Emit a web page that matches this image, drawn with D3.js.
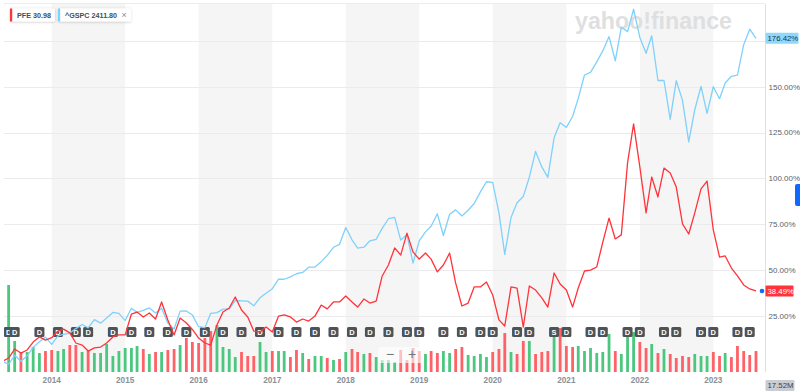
<!DOCTYPE html>
<html><head><meta charset="utf-8">
<script src="https://cdn.jsdelivr.net/npm/d3@7"></script>
<style>body{margin:0;background:#fff}svg{display:block;font-family:"Liberation Sans",Arial,sans-serif}</style>
</head><body><svg id="c" width="800" height="392"></svg>
<script>
// ---------- DATA ----------
const months = [
 "2013-05","2013-06","2013-07","2013-08","2013-09","2013-10","2013-11","2013-12",
 "2014-01","2014-02","2014-03","2014-04","2014-05","2014-06","2014-07","2014-08","2014-09","2014-10","2014-11","2014-12",
 "2015-01","2015-02","2015-03","2015-04","2015-05","2015-06","2015-07","2015-08","2015-09","2015-10","2015-11","2015-12",
 "2016-01","2016-02","2016-03","2016-04","2016-05","2016-06","2016-07","2016-08","2016-09","2016-10","2016-11","2016-12",
 "2017-01","2017-02","2017-03","2017-04","2017-05","2017-06","2017-07","2017-08","2017-09","2017-10","2017-11","2017-12",
 "2018-01","2018-02","2018-03","2018-04","2018-05","2018-06","2018-07","2018-08","2018-09","2018-10","2018-11","2018-12",
 "2019-01","2019-02","2019-03","2019-04","2019-05","2019-06","2019-07","2019-08","2019-09","2019-10","2019-11","2019-12",
 "2020-01","2020-02","2020-03","2020-04","2020-05","2020-06","2020-07","2020-08","2020-09","2020-10","2020-11","2020-12",
 "2021-01","2021-02","2021-03","2021-04","2021-05","2021-06","2021-07","2021-08","2021-09","2021-10","2021-11","2021-12",
 "2022-01","2022-02","2022-03","2022-04","2022-05","2022-06","2022-07","2022-08","2022-09","2022-10","2022-11","2022-12",
 "2023-01","2023-02","2023-03","2023-04","2023-05","2023-06","2023-07","2023-08"];

// % change since May 2013
const pfe = [
 0,1.9,6.8,4.6,6.3,10.6,13.4,11.7,
 13.0,16.6,17.7,15.6,10.1,9.0,5.7,7.4,7.9,10.1,13.4,14.5,
 14.5,25.9,27.0,24.3,26.5,23.2,32.5,22.7,14.5,23.7,21.0,17.5,
 12.8,10.1,9.0,19.9,27.0,29.2,35.2,28.1,24.3,16.6,16.1,18.8,
 16.1,24.8,25.4,24.3,21.5,23.2,22.1,24.8,30.8,28.7,32.5,32.5,
 35.8,32.5,29.7,34.1,31.9,33.0,46.7,52.7,62.0,58.1,70.1,59.8,
 55.9,59.2,55.9,48.9,52.7,59.2,42.8,30.3,31.9,40.7,40.7,43.4,
 36.3,22.7,19.4,40.7,40.1,18.8,41.2,39.0,34.7,29.7,48.3,42.3,
 39.0,29.7,40.1,49.4,49.9,51.6,65.2,78.3,66.9,69.1,108.4,129.7,
 106.2,81.1,100.7,89.8,105.6,102.9,95.2,75.1,69.6,81.1,94.2,98.5,
 71.8,57.0,57.6,51.0,46.7,41.8,39.6,38.49];

const gspc = [
 0,-1.5,3.37,0.14,3.12,7.71,10.74,13.34,
 9.31,14.02,14.82,15.53,17.96,20.2,18.39,22.85,20.94,23.75,26.79,26.26,
 22.34,29.05,26.81,27.89,29.23,26.51,29.01,20.94,17.74,27.51,27.57,25.34,
 18.98,18.49,26.31,26.65,28.59,28.71,33.29,33.13,32.96,30.38,34.83,37.29,
 39.74,44.94,44.89,46.2,47.9,48.61,51.48,51.57,54.49,57.92,62.35,63.95,
 73.16,66.42,61.94,62.38,65.89,66.7,72.7,77.93,78.69,66.29,69.26,53.72,
 65.82,70.75,73.81,80.64,68.76,80.39,82.76,79.46,82.54,86.27,92.61,98.12,
 97.79,81.16,58.49,78.6,86.68,90.11,100.59,114.65,106.23,100.52,122.08,130.33,
 127.77,133.71,143.63,156.4,157.81,163.53,169.53,177.34,164.15,182.41,180.06,192.27,
 176.9,168.22,177.81,153.38,153.39,132.13,153.28,142.53,119.88,137.44,150.2,135.45,
 149.98,143.46,151.99,155.68,156.31,172.91,181.4,176.42];

// monthly volume (millions of shares), first month not shown
const volume = [
 null,1900,677,437,437,546,415,458,
 480,458,502,589,589,437,458,415,415,611,349,458,
 524,524,568,502,393,437,437,480,502,589,742,655,
 633,742,895,1026,546,502,327,437,349,349,655,437,
 458,458,458,327,480,415,284,349,349,306,262,284,
 437,502,437,393,415,327,262,262,218,480,262,524,
 458,393,458,415,458,415,502,546,371,349,393,327,
 437,502,851,437,393,677,677,393,437,458,851,960,
 568,546,568,458,524,415,437,830,458,393,786,873,
 655,524,611,415,502,393,306,349,327,393,349,349,
 437,349,415,327,568,458,371,458];
// "u" = up month (green), "d" = down month (red)
const volDir = [
 null,"u","u","d","u","u","u","d",
 "d","u","u","d","d","u","d","u","u","u","u","u",
 "u","u","u","d","u","d","u","d","d","u","d","d",
 "d","d","d","u","u","u","u","d","d","d","u","u",
 "d","u","u","d","d","u","d","u","u","d","u","d",
 "u","d","d","u","d","u","u","u","u","d","d","d",
 "d","u","d","d","u","u","d","d","u","u","u","u",
 "d","d","d","u","d","d","u","d","d","d","u","d",
 "d","d","u","u","u","u","u","u","d","u","u","u",
 "d","d","u","d","u","d","d","d","d","u","u","u",
 "d","d","u","d","d","d","d","d"];

const dividendMonths = ["2013-06","2013-07","2013-11","2014-02","2014-05","2014-07","2014-11",
 "2015-02","2015-05","2015-08","2015-11","2016-02","2016-05","2016-08","2016-11",
 "2017-02","2017-05","2017-08","2017-11","2018-02","2018-05","2018-08","2018-11",
 "2019-01","2019-05","2019-08","2019-11","2020-01","2020-05","2020-07",
 "2021-01","2021-05","2021-07","2021-11","2022-01","2022-05","2022-07","2022-11",
 "2023-01","2023-05","2023-07"];
const splitMonths = ["2020-11"];

const yearTicks = ["2014","2015","2016","2017","2018","2019","2020","2021","2022","2023"];
const pctTicks = [25,50,75,100,125,150,175];
const shadedYears = ["2014","2016","2018","2020","2022"];
const legendItems = [{label:"PFE 30.98", color:"#ff333a"},{label:"^GSPC 2411.80", color:"#7fd1fb", close:true}];
const lastPfeLabel = "38.49%", lastGspcLabel = "176.42%", volLabel = "17.52M";

// ---------- CHART ----------
(function(){
const svg = d3.select("#c");
const pm = s => { const [yy,m] = s.split("-").map(Number); return new Date(Date.UTC(yy, m-1, 1)); };
const py = s => new Date(Date.UTC(+s, 0, 1));

const pL = 4, pR = 765, pT = 4, pB = 372;
const x = d3.scaleUtc().domain([py("2014"), py("2023")]).range([51.7, 713.3]);
const y = d3.scaleLinear().domain([0, 175]).range([361.5, 40.9]);
const yv = d3.scaleLinear().domain([0, 2000]).range([pB, pB - 91.6]);

svg.append("rect").attr("width",800).attr("height",392).attr("fill","#fff");
const defs = svg.append("defs");
defs.append("clipPath").attr("id","plot").append("rect")
  .attr("x",pL).attr("y",0).attr("width",pR-pL).attr("height",pB);
defs.append("filter").attr("id","sh").attr("x","-20%").attr("y","-40%").attr("width","140%").attr("height","180%")
  .append("feDropShadow").attr("dx",0).attr("dy",0.5).attr("stdDeviation",0.8).attr("flood-opacity",0.25);

// shaded year bands
svg.append("g").selectAll("rect").data(shadedYears).join("rect")
  .attr("x", d => x(py(d)))
  .attr("width", d => x(py(String(+d+1))) - x(py(d)))
  .attr("y", pT).attr("height", pB - pT)
  .attr("fill", "#f5f5f5");

// top border line
svg.append("line").attr("x1",pL).attr("x2",pR).attr("y1",3.5).attr("y2",3.5)
  .attr("stroke","#ececec");

// horizontal gridlines
svg.append("g").selectAll("line").data(pctTicks).join("line")
  .attr("x1", pL).attr("x2", pR)
  .attr("y1", d => Math.round(y(d))+0.5).attr("y2", d => Math.round(y(d))+0.5)
  .attr("stroke", "#ebebeb").attr("stroke-width", 1);

// watermark
svg.append("text").attr("x", 575).attr("y", 28.5)
  .attr("textLength", 157).attr("lengthAdjust","spacingAndGlyphs")
  .attr("font-size", 23).attr("font-weight", 700).attr("fill", "#dedfe1")
  .text("yahoo!finance");

const plot = svg.append("g").attr("clip-path","url(#plot)");

// volume bars
const volData = months.map((m,i) => ({d: pm(m), v: volume[i], dir: volDir[i]})).filter(o => o.v != null);
plot.append("g").selectAll("rect").data(volData).join("rect")
  .attr("x", o => x(o.d) - 1.4).attr("width", 2.8)
  .attr("y", o => yv(o.v)).attr("height", o => pB - yv(o.v))
  .attr("fill", o => o.dir === "u" ? "#4cc77f" : "#ff6266");

// event flags
const flags = dividendMonths.map(m => ({d: pm(m), t: "D"})).concat(splitMonths.map(m => ({d: pm(m), t: "S"})))
  .sort((a,b) => a.d - b.d);
const fg = plot.append("g").selectAll("g").data(flags).join("g")
  .attr("transform", o => `translate(${x(o.d)},332)`);
fg.append("rect").attr("x",-5).attr("y",-5).attr("width",10).attr("height",10).attr("rx",1.5)
  .attr("fill","#4e5358");
fg.append("text").attr("text-anchor","middle").attr("y",2.8).attr("font-size",7.5).attr("font-weight",700)
  .attr("fill","#fff").text(o => o.t);

// lines
const line = d3.line().x((v,i) => x(pm(months[i]))).y(v => y(v));
plot.append("path").datum(gspc).attr("d", line).attr("fill","none")
  .attr("stroke","#7fd1fb").attr("stroke-width",1.3).attr("stroke-linejoin","round");
plot.append("path").datum(pfe).attr("d", line).attr("fill","none")
  .attr("stroke","#ff333a").attr("stroke-width",1.3).attr("stroke-linejoin","round");

// right axis line
svg.append("line").attr("x1",pR+0.5).attr("x2",pR+0.5).attr("y1",pT).attr("y2",pB)
  .attr("stroke","#e0e0e0");

// y labels
svg.append("g").selectAll("text").data(pctTicks.filter(d => d !== 175)).join("text")
  .attr("x", 768.5).attr("y", d => y(d) + 2.8)
  .attr("font-size", 8).attr("fill", "#5b636a")
  .text(d => d3.format(".2f")(d) + "%");

// value tags
function tag(yy, txt, bg, fgc, w) {
  svg.append("rect").attr("x",765.5).attr("y",yy-5.5).attr("width",w).attr("height",11).attr("rx",1).attr("fill",bg);
  svg.append("text").attr("x",767.5).attr("y",yy+2.7).attr("font-size",7.8).attr("fill",fgc).text(txt);
}
tag(y(gspc[gspc.length-1]), lastGspcLabel, "#8fd8fb", "#1d3346", 33);
tag(y(pfe[pfe.length-1]), lastPfeLabel, "#ff333a", "#ffffff", 28);
tag(385.5, volLabel, "#c9ccd1", "#3b4148", 29);

// end dot
svg.append("circle").attr("cx",762).attr("cy",y(pfe[pfe.length-1])).attr("r",2.3).attr("fill","#0f69ff");

// right edge tab
svg.append("rect").attr("x",795).attr("y",184).attr("width",8).attr("height",22).attr("rx",2).attr("fill","#0f69ff");

// x labels
svg.append("g").selectAll("text").data(yearTicks).join("text")
  .attr("x", d => x(py(d))).attr("y", 382.8).attr("text-anchor","middle")
  .attr("font-size", 8.2).attr("font-weight", 700).attr("fill", "#8a9096")
  .text(d => d);

// zoom buttons overlay
const zb = svg.append("g");
zb.append("rect").attr("x",378).attr("y",347).attr("width",45).attr("height",16).attr("rx",3)
  .attr("fill","#fff").attr("fill-opacity",0.6);
zb.append("text").attr("x",390).attr("y",359).attr("text-anchor","middle").attr("font-size",14).attr("fill","#6e757c").text("−");
zb.append("text").attr("x",412).attr("y",359).attr("text-anchor","middle").attr("font-size",14).attr("fill","#6e757c").text("+");

// legend
let lx = 10;
legendItems.forEach(it => {
  const g = svg.append("g").attr("transform",`translate(${lx},8.5)`);
  const t = g.append("text").attr("x",7).attr("y",9.3).attr("font-size",7.2).attr("font-weight",700)
    .attr("fill","#464e56").text(it.label);
  const tw = t.node().getComputedTextLength();
  const w = 7 + tw + (it.close ? 14 : 4);
  g.insert("rect","text").attr("width",w).attr("height",13).attr("rx",1.5).attr("fill","#fff").attr("filter","url(#sh)");
  g.insert("rect","text").attr("x",0).attr("width",2.2).attr("height",13).attr("fill",it.color);
  if (it.close) g.append("text").attr("x",7+tw+7).attr("y",9.5).attr("text-anchor","middle")
    .attr("font-size",9).attr("fill","#8a9096").text("×");
  lx += w + 3;
});
})();
</script></body></html>
